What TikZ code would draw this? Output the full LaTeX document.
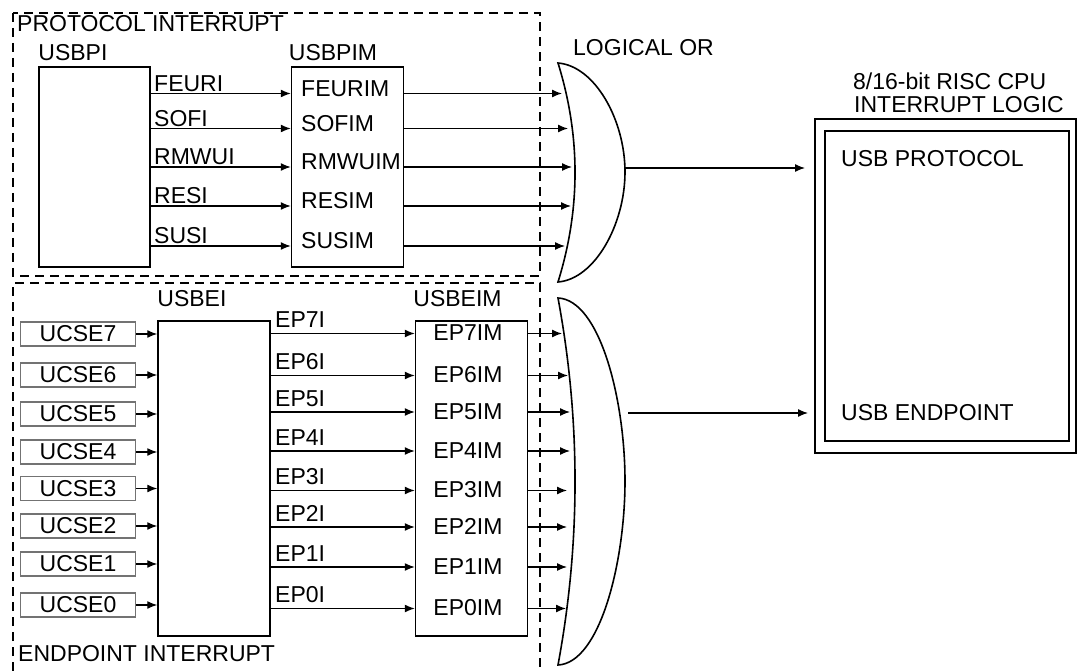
\documentclass[tikz,border=0pt]{standalone}
\usepackage{fontspec}
\setmainfont{Liberation Sans}
\usetikzlibrary{arrows.meta,positioning}
\tikzset{
  blk/.style={draw, line width=1.5pt, inner sep=0pt},
  ucse/.style={draw=black!55, line width=1.5pt, inner sep=0pt, minimum width=115pt, minimum height=24pt},
  lbl/.style={inner sep=0pt, anchor=base west},
  sig/.style={-{Latex[length=10pt,width=8pt]}, line width=1.3pt},
  region/.style={dash pattern=on 9pt off 6pt, line width=1.3pt},
  gate/.style={draw, line width=1.6pt}
}

\begin{document}
\begin{tikzpicture}[x=1pt, y=-1pt, font=\fontsize{23}{20}\selectfont]
\useasboundingbox (0,0) rectangle (1077,671);

% dashed regions
\draw[region] (13,13) rectangle (540,276);
\draw[region] (13,671) |- (540,283) -- (540,671);
\node[lbl] (prot-l) at (17,32) {PROTOCOL INTERRUPT};
\node[lbl] (endp-l) at (18,661) {ENDPOINT INTERRUPT};

% protocol interrupt
\node[blk, minimum width=111pt, minimum height=200pt] (usbpi) at (94.5,167) {};
\node[blk, minimum width=112pt, minimum height=200pt, right=140pt of usbpi] (usbpim) {};
\node[lbl] (usbpi-l) at ([yshift=6pt]usbpi.north west) {USBPI};
\node[lbl] (usbpim-l) at ([xshift=-2pt,yshift=6pt]usbpim.north west) {USBPIM};
\foreach \nm/\y/\tx in {FEURI/93.5/562, SOFI/128.5/568, RMWUI/167/572, RESI/206/571, SUSI/246/565}{
  \coordinate (r-\nm) at (0,\y);
  \coordinate (or-\nm) at (\tx,\y);
  \node[lbl] (\nm) at (154,{\y-2}) {\nm};
  \node[lbl] (\nm-m) at (301,{\y+3}) {\nm M};
  \draw[sig] (usbpi.east |- r-\nm) -- (usbpim.west |- r-\nm);
  \draw[sig] (usbpim.east |- r-\nm) -- (or-\nm);
}

% endpoint interrupt
\node[blk, minimum width=112pt, minimum height=315pt] (usbei) at (214,478.5) {};
\node[blk, minimum width=112pt, minimum height=315pt, right=144pt of usbei] (usbeim) {};
\node[lbl] (usbei-l) at ([yshift=14pt]usbei.north west) {USBEI};
\node[lbl] (usbeim-l) at ([xshift=-1.5pt,yshift=14pt]usbeim.north west) {USBEIM};
\foreach \i/\yu/\y/\tx in {7/334/333.5/562, 6/375/375.5/568, 5/414/412/570, 4/452/451/570, 3/488.5/490.5/567, 2/526/527/567, 1/564/567/567, 0/605/608.5/566}{
  \node[ucse] (ucse\i) at (78,\yu) {UCSE\i};
  \draw[sig] (ucse\i) -- (usbei.west |- ucse\i);
  \coordinate (r-ep\i) at (0,\y);
  \coordinate (ore-\i) at (\tx,\y);
  \node[lbl] (ep\i) at (275,{\y-6}) {EP\i I};
  \node[anchor=base, inner sep=0pt] (ep\i-m) at (468,{\y+7}) {EP\i IM};
  \draw[sig] (usbei.east |- r-ep\i) -- (usbeim.west |- r-ep\i);
  \draw[sig] (usbeim.east |- r-ep\i) -- (ore-\i);
}

% logical or gates
\node[lbl] (or-l) at (573,56) {LOGICAL OR};
\draw[gate] (558,63) .. controls (595,66) and (625,120) .. (625,172)
  .. controls (625,224) and (595,279) .. (558,282)
  .. controls (580.7,209) and (580.7,136) .. cycle;
\draw[gate] (558,298) .. controls (600,300) and (625,400) .. (625,481)
  .. controls (625,562) and (600,663) .. (558,665)
  .. controls (580.7,543) and (580.7,420) .. cycle;
\coordinate (orp-out) at (625,168);
\coordinate (ore-out) at (628,413);

% cpu
\node[blk, minimum width=261pt, minimum height=334pt] (cpu) at (945.5,286) {};
\node[blk, minimum width=244pt, minimum height=310pt] (cpu-in) at (947,286) {};
\node[lbl] (cpu-l1) at (853,90) {8/16-bit RISC CPU};
\node[lbl] (cpu-l2) at (854,113) {INTERRUPT LOGIC};
\node[lbl] (usbprot) at (841,167) {USB PROTOCOL};
\node[lbl] (usbendp) at (841,420) {USB ENDPOINT};
\coordinate (cpu-in1) at (805,168);
\coordinate (cpu-in2) at (808,413);
\draw[sig] (orp-out) -- (cpu-in1);
\draw[sig] (ore-out) -- (cpu-in2);
\end{tikzpicture}
\end{document}
